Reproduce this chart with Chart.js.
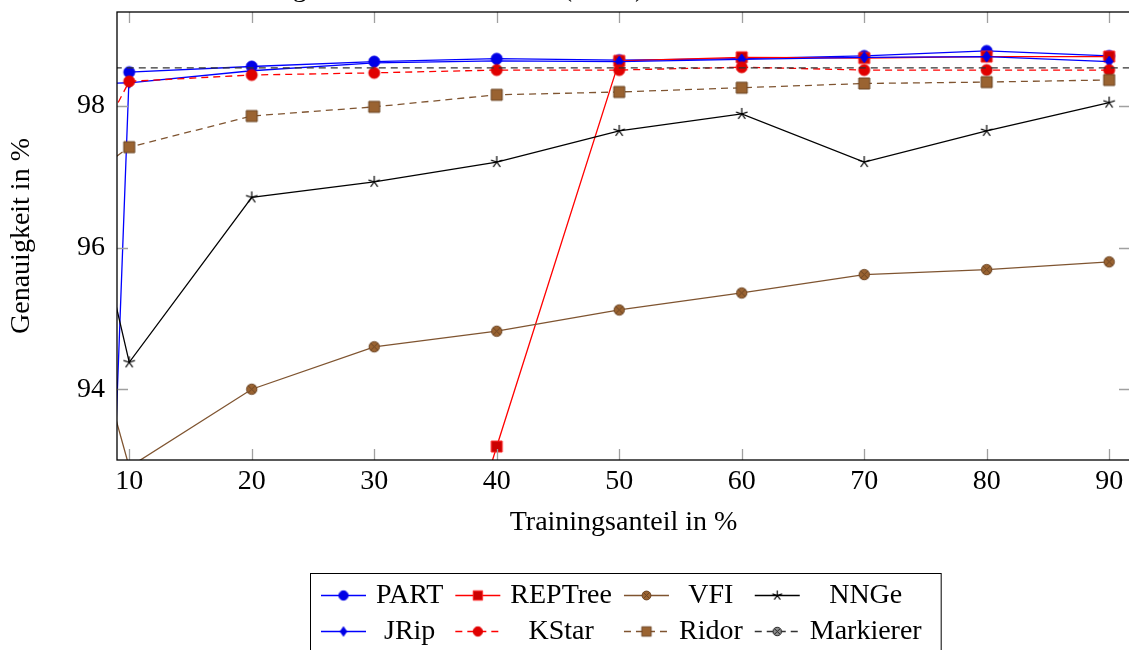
<!DOCTYPE html>
<html>
<head>
<meta charset="utf-8">
<script src="https://cdn.jsdelivr.net/npm/chart.js@4.4.1/dist/chart.umd.min.js"></script>
<style>
  html, body { margin: 0; padding: 0; background: #fff; overflow: hidden; }
  #wrap { width: 1140px; height: 650px; }
</style>
</head>
<body>
<div id="wrap"><canvas id="accChart" width="1140" height="650"></canvas></div>
<script>
// Trainingsanteil (x) und Genauigkeit in % je Verfahren
const xValues   = [5, 10, 20, 30, 40, 50, 60, 70, 80, 90];
const partAcc   = [75.3, 98.48, 98.56, 98.63, 98.67, 98.65, 98.67, 98.71, 98.78, 98.71];
const jripAcc   = [98.31, 98.33, 98.50, 98.61, 98.64, 98.63, 98.66, 98.69, 98.70, 98.63];
const kstarAcc  = [96.7, 98.35, 98.44, 98.47, 98.51, 98.51, 98.55, 98.51, 98.51, 98.51];
const ridorAcc  = [96.8, 97.42, 97.86, 97.99, 98.16, 98.20, 98.26, 98.32, 98.34, 98.37];
const nngeAcc   = [98.1, 94.38, 96.71, 96.93, 97.21, 97.65, 97.89, 97.21, 97.65, 98.05];
const vfiAcc    = [96.0, 92.9, 94.00, 94.60, 94.82, 95.12, 95.36, 95.62, 95.69, 95.80];
const repTreeX  = [30, 40, 50, 60, 70, 80, 90];
const repTreeAcc = [87.6, 93.19, 98.64, 98.69, 98.68, 98.70, 98.70];
const markerX   = [0, 100];
const markerAcc = [98.54, 98.54];

const xTicks = [10, 20, 30, 40, 50, 60, 70, 80, 90];
const yTicks = [94, 96, 98];

const FAMILY = "'Liberation Serif', 'Times New Roman', serif";
const FONT = { family: FAMILY, size: 28 };
const BROWN_LINE = '#7f5430';
const BROWN_FILL = '#9a6331';

// kleine Canvas-Marker im pgfplots-Stil
function makeMark(kind, fill, stroke, r) {
  const s = Math.ceil(r * 2 + 4);
  const c = document.createElement('canvas');
  c.width = s; c.height = s;
  const g = c.getContext('2d');
  const m = s / 2;
  g.lineWidth = 1;
  g.fillStyle = fill;
  g.strokeStyle = stroke;
  g.beginPath();
  if (kind === 'circle' || kind === 'otimes') {
    g.arc(m, m, r, 0, Math.PI * 2);
    g.fill(); g.stroke();
    if (kind === 'otimes') {
      const d = r * 0.707;
      g.beginPath();
      g.moveTo(m - d, m - d); g.lineTo(m + d, m + d);
      g.moveTo(m - d, m + d); g.lineTo(m + d, m - d);
      g.stroke();
    }
  } else if (kind === 'square') {
    g.rect(m - r, m - r, r * 2, r * 2);
    g.fill(); g.stroke();
  } else if (kind === 'diamond') {
    g.moveTo(m, m - r);
    g.lineTo(m + r * 0.7, m);
    g.lineTo(m, m + r);
    g.lineTo(m - r * 0.7, m);
    g.closePath();
    g.fill(); g.stroke();
  } else if (kind === 'star') {
    g.lineWidth = 1.2;
    for (let k = 0; k < 5; k++) {
      const a = -Math.PI / 2 + k * 2 * Math.PI / 5;
      g.moveTo(m, m);
      g.lineTo(m + r * Math.cos(a), m + r * Math.sin(a));
    }
    g.stroke();
  }
  return c;
}

function toPoints(xs, ys) {
  return xs.map((x, i) => ({ x: x, y: ys[i] }));
}

const series = [
  { label: 'PART',      xs: xValues,  ys: partAcc,    color: '#0000ff', dash: [],     mark: ['circle', '#0000e6', '#0000e6', 5.5] },
  { label: 'REPTree',   xs: repTreeX, ys: repTreeAcc, color: '#ff0000', dash: [],     mark: ['square', '#cc0000', '#ff2020', 5.5] },
  { label: 'VFI',       xs: xValues,  ys: vfiAcc,     color: BROWN_LINE, dash: [],    mark: ['otimes', BROWN_FILL, '#6b4423', 5.2] },
  { label: 'NNGe',      xs: xValues,  ys: nngeAcc,    color: '#000000', dash: [],     mark: ['star', '#000', '#000', 6] },
  { label: 'JRip',      xs: xValues,  ys: jripAcc,    color: '#0000ff', dash: [],     mark: ['diamond', '#0000e6', '#0000e6', 5.5] },
  { label: 'KStar',     xs: xValues,  ys: kstarAcc,   color: '#ff0000', dash: [7, 5], mark: ['circle', '#e00000', '#e00000', 5.5] },
  { label: 'Ridor',     xs: xValues,  ys: ridorAcc,   color: BROWN_LINE, dash: [7, 5], mark: ['square', BROWN_FILL, '#6b4423', 5.5] },
  { label: 'Markierer', xs: markerX,  ys: markerAcc,  color: '#333333', dash: [7, 5], mark: ['otimes', '#8c8c8c', '#222', 5] }
];

const datasets = series.map((s, i) => ({
  label: s.label,
  data: toPoints(s.xs, s.ys),
  borderColor: s.color,
  borderWidth: 1.3,
  borderDash: s.dash,
  pointStyle: makeMark(...s.mark),
  legendMark: makeMark(s.mark[0], s.mark[1], s.mark[2], s.mark[3] * 0.85),
  pointRadius: 6,
  pointHoverRadius: 6,
  tension: 0,
  fill: false,
  order: series.length - i
}));

// Rahmen, Ticks nach innen, Titel und Legende
const framePlugin = {
  id: 'frame',
  afterDraw(chart) {
    const ctx = chart.ctx;
    const a = chart.chartArea;
    const xs = chart.scales.x, ys = chart.scales.y;
    ctx.save();
    ctx.setLineDash([]);
    ctx.strokeStyle = '#a0a0a0';
    ctx.lineWidth = 1.3;
    const tl = 11;
    ctx.beginPath();
    xTicks.forEach(v => {
      const px = Math.round(xs.getPixelForValue(v)) + 0.5;
      ctx.moveTo(px, a.bottom); ctx.lineTo(px, a.bottom - tl);
      ctx.moveTo(px, a.top); ctx.lineTo(px, a.top + tl);
    });
    yTicks.forEach(v => {
      const py = Math.round(ys.getPixelForValue(v)) + 0.5;
      ctx.moveTo(a.left, py); ctx.lineTo(a.left + tl, py);
      ctx.moveTo(a.right, py); ctx.lineTo(a.right - tl, py);
    });
    ctx.stroke();
    ctx.strokeStyle = '#000';
    ctx.strokeRect(a.left, a.top, a.right - a.left, a.bottom - a.top);

    // Diagrammtitel
    ctx.fillStyle = '#000';
    ctx.font = FONT.size + 'px ' + FAMILY;
    ctx.textAlign = 'left';
    ctx.textBaseline = 'alphabetic';
    ctx.fillText('Genauigkeit der Klassifikation (Weka)', 212, -4);

    // Legende, 4 Spalten
    const dsList = chart.data.datasets;
    const colW = [0, 0, 0, 0];
    dsList.forEach((d, i) => {
      colW[i % 4] = Math.max(colW[i % 4], ctx.measureText(d.label).width + 16);
    });
    const imgW = 45, gapImg = 2, gapCol = 4, padL = 11, padR = 11;
    const total = padL + padR + 4 * (imgW + gapImg) + colW.reduce((p, q) => p + q, 0) + 3 * gapCol;
    const boxL = Math.round(625 - total / 2);
    const colX = [];
    let cx = boxL + padL;
    for (let c = 0; c < 4; c++) {
      colX.push(cx);
      cx += imgW + gapImg + colW[c] + gapCol;
    }
    ctx.lineWidth = 1;
    ctx.strokeStyle = '#000';
    ctx.strokeRect(boxL + 0.5, 573.5, total, 100);
    const rowY = [595, 631];
    ctx.textAlign = 'center';
    ctx.textBaseline = 'middle';
    dsList.forEach((d, i) => {
      const c = i % 4, y = rowY[Math.floor(i / 4)], x0 = colX[c];
      ctx.strokeStyle = d.borderColor;
      ctx.lineWidth = 1.3;
      ctx.setLineDash(d.borderDash);
      ctx.beginPath();
      ctx.moveTo(x0, y + 0.5); ctx.lineTo(x0 + imgW, y + 0.5);
      ctx.stroke();
      ctx.setLineDash([]);
      const mk = d.legendMark;
      ctx.drawImage(mk, x0 + imgW / 2 - mk.width / 2, y + 0.5 - mk.height / 2);
      ctx.fillStyle = '#000';
      ctx.fillText(d.label, x0 + imgW + gapImg + colW[c] / 2, y + 1);
    });
    ctx.restore();
  }
};

// Achsen sollen keinen Zusatzrand fuer Randbeschriftungen bekommen
function noEdgePadding(s) {
  s.paddingTop = 0; s.paddingBottom = 0;
  s.paddingLeft = 0; s.paddingRight = 0;
}

new Chart(document.getElementById('accChart').getContext('2d'), {
  type: 'line',
  data: { datasets: datasets },
  options: {
    responsive: false,
    animation: false,
    devicePixelRatio: 1,
    layout: { padding: { top: 12, right: 10, bottom: 110, left: 0 } },
    plugins: { legend: { display: false }, tooltip: { enabled: false } },
    scales: {
      x: {
        type: 'linear',
        min: 9,
        max: 91.7,
        afterBuildTicks: s => { s.ticks = xTicks.map(v => ({ value: v })); },
        afterFit: s => { s.height = 80; noEdgePadding(s); },
        grid: { display: false, drawTicks: false },
        border: { display: false },
        ticks: { font: FONT, color: '#000', padding: 5, maxRotation: 0, autoSkip: false },
        title: { display: true, text: 'Trainingsanteil in %', font: FONT, color: '#000', padding: { top: 2, bottom: 1 } }
      },
      y: {
        type: 'linear',
        min: 93,
        max: 99.33,
        afterBuildTicks: s => { s.ticks = yTicks.map(v => ({ value: v })); },
        afterFit: s => { s.width = 117; noEdgePadding(s); },
        grid: { display: false, drawTicks: false },
        border: { display: false },
        ticks: { font: FONT, color: '#000', padding: 12 },
        title: { display: true, text: 'Genauigkeit in %', font: FONT, color: '#000', padding: { top: 5, bottom: 2 } }
      }
    }
  },
  plugins: [framePlugin]
});
</script>
</body>
</html>
